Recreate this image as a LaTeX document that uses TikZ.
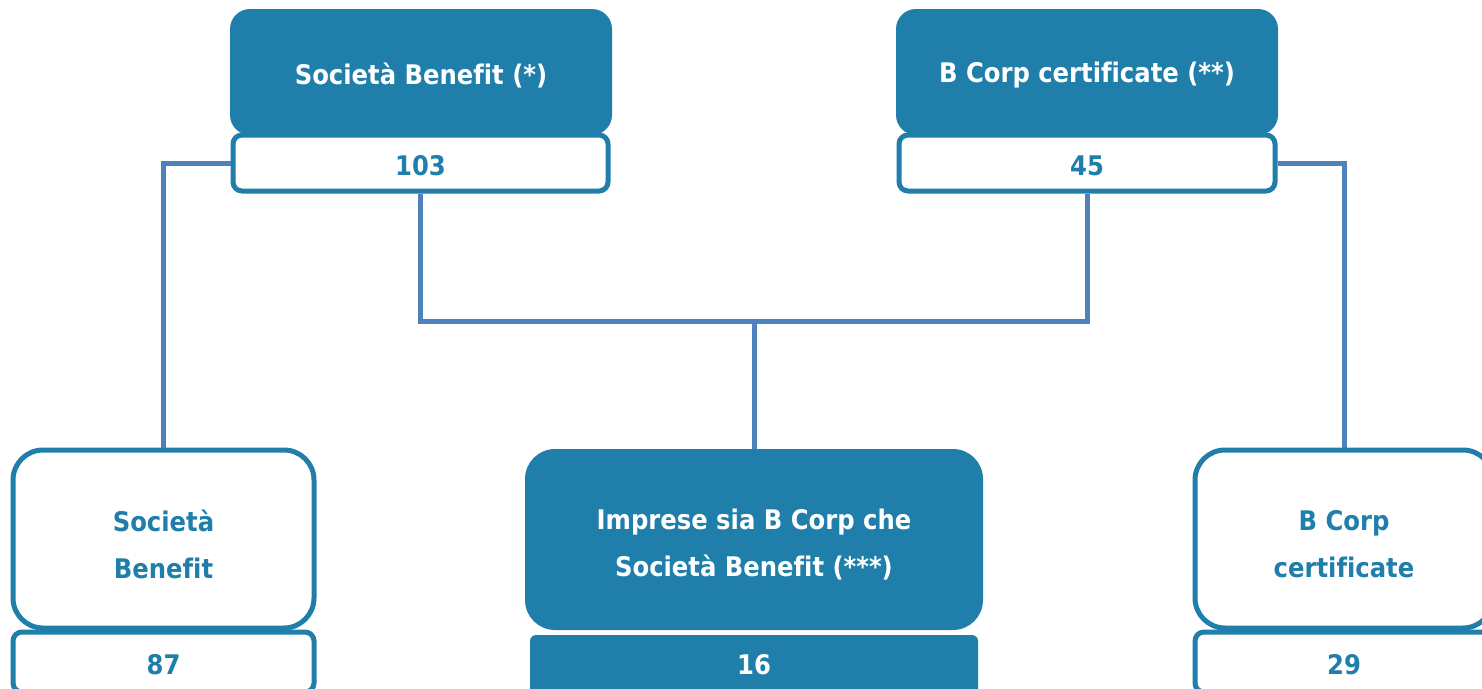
\documentclass[tikz,border=0pt]{standalone}
\usepackage{fontspec}
\setmainfont{DejaVu Sans Condensed}[Ligatures=NoCommon]
\usetikzlibrary{backgrounds}
\definecolor{dk}{HTML}{1F7EAA}
\definecolor{ln}{HTML}{4F81BD}
\tikzset{
  txt/.style={font=\bfseries\fontsize{27}{47}\selectfont, align=center, inner sep=0pt},
  hdr/.style={txt, fill=dk, draw=none, rounded corners=20pt, text=white},
  numw/.style={txt, draw=dk, line width=5pt, fill=white, rounded corners=9pt, text=dk},
  numd/.style={txt, fill=dk, draw=none, rounded corners=6pt, text=white},
  lowbox/.style={txt, draw=dk, line width=5pt, fill=white, rounded corners=30pt, text=dk},
  lowdark/.style={txt, fill=dk, draw=none, rounded corners=30pt, text=white},
  conn/.style={draw=ln, line width=5pt}
}
\begin{document}
\begin{tikzpicture}[x=1pt,y=-1pt]
\useasboundingbox (0,0) rectangle (1482,688);
\clip (0,0) rectangle (1482,688);
% top headers
\node[hdr, minimum width=382pt, minimum height=126pt] (sbh) at (421,72) {};
\node[txt, text=white] (sbt) at (421,75) {Società Benefit (*)};
\node[numw, minimum width=375pt, minimum height=56pt] (n103) at (420.5,163) {};
\node[txt, text=dk] (n103t) at (420.5,166) {103};
\node[hdr, minimum width=382pt, minimum height=126pt] (bch) at (1087,72) {};
\node[txt, text=white] (bct) at (1087,75) {B Corp certificate (**)};
\node[numw, minimum width=376pt, minimum height=56pt] (n45) at (1087,163) {};
\node[txt, text=dk] (n45t) at (1087,166) {45};
% bottom boxes
\node[lowbox, minimum width=301pt, minimum height=178pt] (sb) at (163.5,539) {};
\node[txt, text=dk] (sbl) at (163.5,544) {Società\\Benefit};
\node[numw, minimum width=301pt, minimum height=60pt] (n87) at (163.5,662) {};
\node[txt, text=dk] (n87t) at (163.5,665) {87};
\node[lowdark, minimum width=458pt, minimum height=181pt] (both) at (754,539.5) {};
\node[txt, text=white] (bothl) at (754,545) {Imprese sia B Corp che\\Società Benefit (***)};
\node[numd, minimum width=448pt, minimum height=64pt] (n16) at (754,667) {};
\node[txt, text=white] (n16t) at (754,665) {16};
\node[lowbox, minimum width=298pt, minimum height=178pt] (bc) at (1344,539) {};
\node[txt, text=dk] (bcl) at (1344,544) {B Corp\\certificate};
\node[numw, minimum width=298pt, minimum height=60pt] (n29) at (1344,662) {};
\node[txt, text=dk] (n29t) at (1344,665) {29};
\coordinate (j) at (754,321);
% connectors, under the boxes
\begin{scope}[on background layer]
\draw[conn] (n103.west) -| (sb.north);
\draw[conn] (n103.south) |- (j) -| (n45.south);
\draw[conn] (j) -- (both.north);
\draw[conn] (n45.east) -| (bc.north);
\end{scope}
\end{tikzpicture}
\end{document}
